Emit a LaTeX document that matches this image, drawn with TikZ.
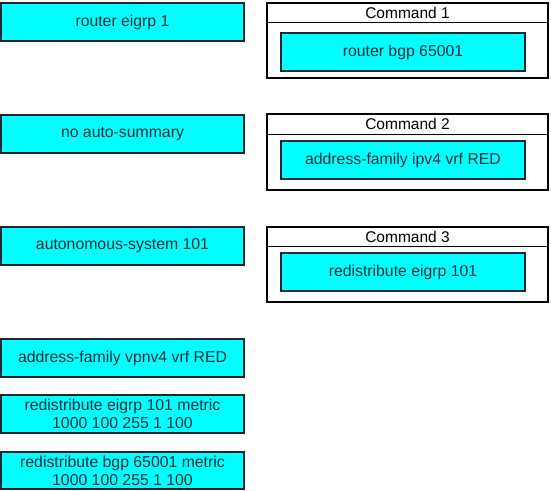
\documentclass[tikz,border=0pt]{standalone}
\usepackage{fontspec}
\setmainfont{Liberation Sans}
\definecolor{cy}{RGB}{0,255,255}
\definecolor{edge}{RGB}{25,40,45}
\definecolor{txt}{RGB}{20,45,55}
\begin{document}
\begin{tikzpicture}[x=1pt,y=-1pt,
  cmdbox/.style={draw=edge,fill=cy,line width=1.3pt,inner sep=0pt,font=\fontsize{15.8}{18}\selectfont,text=txt,align=center},
  leftbox/.style={cmdbox,minimum width=243pt,minimum height=38pt},
  innerbox/.style={cmdbox,minimum width=244pt,minimum height=38pt},
  container/.style={draw=black,line width=2.4pt,minimum width=281pt,inner sep=0pt},
  titletext/.style={font=\fontsize{15.5}{17}\selectfont,text=black,inner sep=0pt}]
\useasboundingbox (0,0) rectangle (551,490);
% left column
\node[leftbox] (l1) at (122.5,22) {router eigrp 1};
\node[leftbox] (l2) at (122.5,134) {no auto-summary};
\node[leftbox] (l3) at (122.5,246) {autonomous-system 101};
\node[leftbox] (l4) at (122.5,358) {address-family vpnv4 vrf RED};
\node[leftbox] (l5) at (122.5,414) {redistribute eigrp 101 metric\\1000 100 255 1 100};
\node[leftbox,minimum height=37pt] (l6) at (122.5,470.5) {redistribute bgp 65001 metric\\1000 100 255 1 100};
% right column containers
\node[container,minimum height=75pt] (c1) at (407.5,40.5) {};
\node[container,minimum height=76pt] (c2) at (407.5,152) {};
\node[container,minimum height=75pt] (c3) at (407.5,264.5) {};
\draw[line width=1pt] (c1.west |- 0,22) -- (c1.east |- 0,22);
\draw[line width=1pt] (c2.west |- 0,134) -- (c2.east |- 0,134);
\draw[line width=1pt] (c3.west |- 0,246) -- (c3.east |- 0,246);
\node[titletext] (t1) at (407.5,12.5) {Command 1};
\node[titletext] (t2) at (407.5,124) {Command 2};
\node[titletext] (t3) at (407.5,236.5) {Command 3};
\node[innerbox] (i1) at (403,52) {router bgp 65001};
\node[innerbox] (i2) at (403,160) {address-family ipv4 vrf RED};
\node[innerbox] (i3) at (403,272) {redistribute eigrp 101};
\end{tikzpicture}
\end{document}
